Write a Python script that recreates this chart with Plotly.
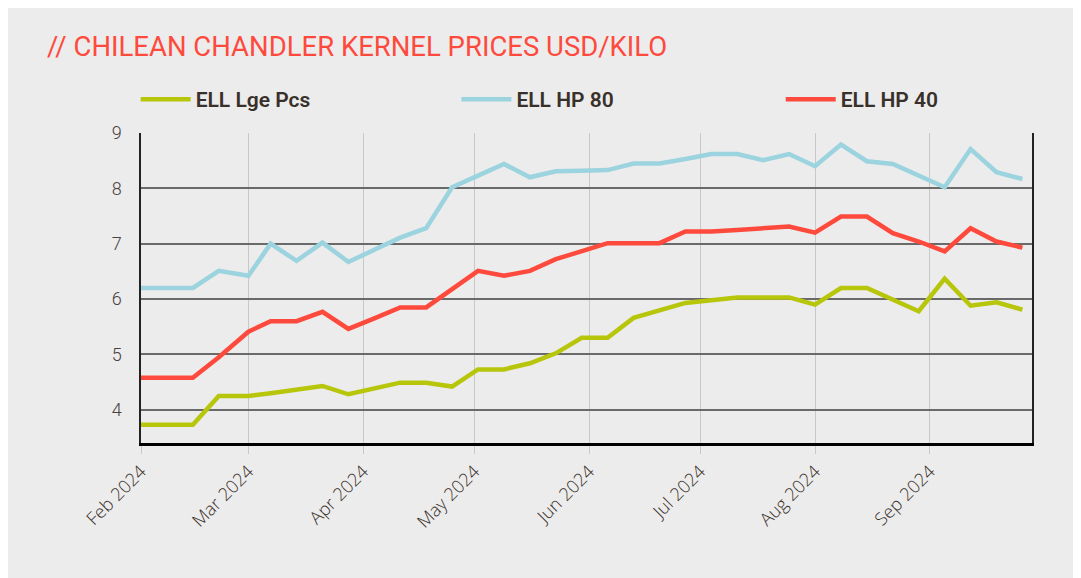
import plotly.graph_objects as go

dates = ["2024-02-01", "2024-02-08", "2024-02-15", "2024-02-22", "2024-03-01",
         "2024-03-07", "2024-03-14", "2024-03-21", "2024-03-28", "2024-04-04",
         "2024-04-11", "2024-04-18", "2024-04-25", "2024-05-02", "2024-05-09",
         "2024-05-16", "2024-05-23", "2024-05-30", "2024-06-06", "2024-06-13",
         "2024-06-20", "2024-06-27", "2024-07-04", "2024-07-11", "2024-07-18",
         "2024-07-25", "2024-08-01", "2024-08-08", "2024-08-15", "2024-08-22",
         "2024-08-29", "2024-09-05", "2024-09-12", "2024-09-19", "2024-09-26"]

ell_lge_pcs = [3.73, 3.73, 3.73, 4.25, 4.25, 4.30, 4.37, 4.43, 4.28, 4.38,
               4.49, 4.49, 4.42, 4.73, 4.73, 4.84, 5.02, 5.30, 5.30, 5.66,
               5.79, 5.93, 5.98, 6.03, 6.03, 6.03, 5.90, 6.20, 6.20, 6.00,
               5.78, 6.37, 5.88, 5.94, 5.81]

ell_hp80 = [6.20, 6.20, 6.20, 6.51, 6.42, 7.00, 6.69, 7.02, 6.67, 6.89,
            7.11, 7.28, 8.02, 8.23, 8.44, 8.20, 8.31, 8.32, 8.33, 8.45,
            8.45, 8.53, 8.62, 8.62, 8.51, 8.62, 8.40, 8.79, 8.49, 8.44,
            8.23, 8.02, 8.71, 8.29, 8.17]

ell_hp40 = [4.58, 4.58, 4.58, 4.95, 5.41, 5.60, 5.60, 5.77, 5.46, 5.65,
            5.85, 5.85, 6.18, 6.51, 6.42, 6.51, 6.72, 6.87, 7.01, 7.01,
            7.01, 7.22, 7.22, 7.25, 7.28, 7.31, 7.20, 7.49, 7.49, 7.19,
            7.04, 6.86, 7.28, 7.04, 6.93]

series = [
    ("ELL Lge Pcs", ell_lge_pcs, "#b7c60b", "legend"),
    ("ELL HP 80", ell_hp80, "#9bd3df", "legend2"),
    ("ELL HP 40", ell_hp40, "#fe4a3c", "legend3"),
]
legend_x = {"legend": -0.006, "legend2": 0.354, "legend3": 0.718}

tick_vals = ["2024-02-01", "2024-03-01", "2024-04-01", "2024-05-01",
             "2024-06-01", "2024-07-01", "2024-08-01", "2024-09-01"]
tick_text = ["Feb 2024", "Mar 2024", "Apr 2024", "May 2024",
             "Jun 2024", "Jul 2024", "Aug 2024", "Sep 2024"]

fig = go.Figure()
for name, vals, color, lg in series:
    fig.add_trace(go.Scatter(
        x=dates, y=vals, name=name, mode="lines", legend=lg,
        line=dict(color=color, width=4.5, shape="linear"),
    ))

bg = "#ececec"
W, H = 1073, 570
legend_common = dict(
    orientation="h", xanchor="left", y=1.108, yanchor="middle",
    font=dict(family="Roboto", size=21, color="#3a302a", weight=600),
    bgcolor="rgba(0,0,0,0)", itemwidth=50,
)
fig.update_layout(
    width=W, height=H,
    paper_bgcolor=bg, plot_bgcolor=bg,
    margin=dict(l=133, r=49, t=125, b=135),
    title=dict(
        text="// CHILEAN CHANDLER KERNEL PRICES USD/KILO",
        font=dict(family="Roboto", size=27.5, color="#fe4a3c"),
        x=39 / W, xanchor="left", xref="container",
        y=1 - 38 / H, yanchor="middle", yref="container",
    ),
    legend=dict(x=legend_x["legend"], **legend_common),
    legend2=dict(x=legend_x["legend2"], **legend_common),
    legend3=dict(x=legend_x["legend3"], **legend_common),
    showlegend=True,
)

fig.update_xaxes(
    type="date",
    range=["2024-02-01", "2024-09-28 14:00"],
    tickvals=tick_vals, ticktext=tick_text,
    tickangle=-45,
    tickfont=dict(family="Open Sans", size=18, color="#3a302a", weight=300),
    showgrid=True, gridcolor="#c8c8c8", gridwidth=1,
    ticks="outside", ticklen=8, tickcolor="#c8c8c8", tickwidth=1,
    showline=True, linecolor="#000000", linewidth=3,
    zeroline=False,
)

fig.update_yaxes(
    range=[3.4, 9],
    tickvals=[4, 5, 6, 7, 8, 9],
    tickfont=dict(family="Roboto", size=18, color="#4a4040", weight=300),
    showgrid=True, gridcolor="#6a6a6a", gridwidth=1.5,
    showline=True, mirror=True, linecolor="#222222", linewidth=1.5,
    ticks="", ticklabelstandoff=14,
    zeroline=False,
)

fig.write_html("out.html")
